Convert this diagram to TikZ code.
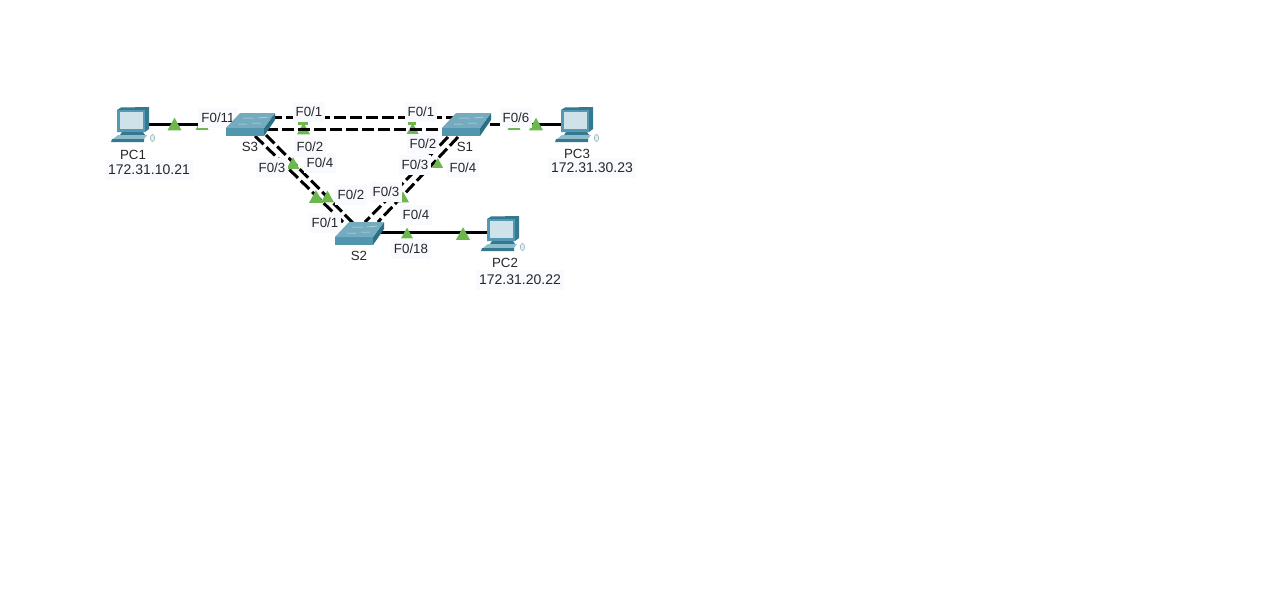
\documentclass[tikz,border=0pt]{standalone}
\usepackage{fontspec}
\setmainfont{Liberation Sans}
\usetikzlibrary{calc}
\definecolor{swtop}{HTML}{74ABBF}
\definecolor{swfront}{HTML}{4F96AE}
\definecolor{swside}{HTML}{2C7086}
\definecolor{pcback}{HTML}{34798F}
\definecolor{pcscreen}{HTML}{CFE2EA}
\definecolor{pcframe}{HTML}{5299B1}
\definecolor{lblbg}{HTML}{F9FAFE}
\definecolor{tri}{HTML}{6CB84E}
\definecolor{txt}{HTML}{26262B}
\tikzset{
 x=1pt,y=-1pt,
 link/.style={line width=3pt,black},
 linkd/.style={link,dash pattern=on 12pt off 4pt},
 lbl/.style={font=\fontsize{13.3}{15}\selectfont,text=txt,fill=lblbg,inner xsep=3pt,inner ysep=0pt,minimum height=20pt,text height=9.5pt,text depth=0pt},
 iplbl/.style={lbl,font=\fontsize{14}{16}\selectfont},
 captxt/.style={lbl,fill=none},
 mark tri/.style={fill=tri,draw=none},
}
\newcommand{\tria}[3]{\fill[mark tri] (#1-#3,#2+#3*.9) -- (#1,#2-#3*.9) -- (#1+#3,#2+#3*.9) -- cycle;}
\newcommand{\swicon}[3]{%
 \begin{scope}[shift={(#2,#3)}]
 \coordinate (#1) at (250,124);
 \fill[swfront] (226,128) -- (264,128) -- (264,136) -- (226,136) -- cycle;
 \fill[swside] (264,128) -- (275,113) -- (275,120) -- (264,136) -- cycle;
 \fill[swtop] (226,128) -- (240,113) -- (275,113) -- (264,128) -- cycle;
 \draw[white,line width=.5pt,opacity=.6] (243,118) -- (254,118) (258,118) -- (268,117) (238,124) -- (247,124) (252,123) -- (261,123);
 \end{scope}}
\newcommand{\pcicon}[3]{%
 \begin{scope}[shift={(#2,#3)}]
 \coordinate (#1) at (133,124);
 \fill[pcback] (117,110) -- (121,107.5) -- (149,107) -- (149,129) -- (145,132) -- (117,132) -- cycle;
 \fill[pcframe] (117,110) -- (145,110) -- (145,132) -- (117,132) -- cycle;
 \fill[pcscreen] (120,112) -- (143,112) -- (143,129) -- (120,129) -- cycle;
 \fill[pcback] (122,132) -- (143,132) -- (145,135) -- (120,135) -- cycle;
 \fill[pcframe!65!white] (118,135) -- (147,135) -- (144,139) -- (113,139) -- cycle;
 \fill[pcback] (112,139) -- (144,139) -- (144,142) -- (111,142) -- cycle;
 \draw[pcback!60!white,line width=.5pt,fill=black!8] (152.5,138) ellipse (2.2 and 3.6);
 \end{scope}}
\begin{document}
\begin{tikzpicture}
\useasboundingbox (0,0) rectangle (1269,610);
\fill[white] (0,0) rectangle (1269,610);
% port coordinates
\coordinate (s3a) at (270,117); \coordinate (s1a) at (455,117);
\coordinate (s3b) at (266,129); \coordinate (s1b) at (445,129);
\coordinate (s3c) at (255,136); \coordinate (s2c) at (343,222);
\coordinate (s3d) at (266,135); \coordinate (s2d) at (354,224);
\coordinate (s1e) at (448,137); \coordinate (s2e) at (365,222);
\coordinate (s1f) at (458,137); \coordinate (s2f) at (378,222);
\coordinate (pc1p) at (148,124); \coordinate (s3p) at (230,124);
\coordinate (s1p) at (490,124); \coordinate (pc3p) at (562,124);
\coordinate (s2p) at (380,232); \coordinate (pc2p) at (490,232);
% triangles that sit beneath the lower horizontal link
\tria{303.5}{128.5}{6.5}
\tria{412.7}{128.5}{6}
\fill[tri] (298,122) rectangle (308,125);
\fill[tri] (408,122) rectangle (416,125);
% links
\draw[link] (pc1p) -- (s3p);
\draw[link] (s1p) -- (pc3p);
\draw[link] (s2p) -- (pc2p);
\draw[linkd] (s3a) -- (s1a);
\draw[linkd] (s3b) -- (s1b);
\draw[linkd] (s3c) -- (s2c);
\draw[linkd] (s3d) -- (s2d);
\draw[linkd] (s1e) -- (s2e);
\draw[linkd] (s1f) -- (s2f);
% status triangles
\tria{174.5}{124}{7}
\tria{202}{124}{6.5}
\tria{514}{124}{6.5}
\tria{536}{124}{7}
\tria{407}{233}{6}
\tria{463}{233.5}{7}
\tria{293}{163}{6.5}
\tria{316}{196.5}{7}
\tria{327.5}{196.5}{6.5}
\tria{437.7}{163}{5.5}
\tria{403}{197}{6}
% labels
\node[lbl] (l1) at (218,118) {F0/11};
\node[lbl] (l2) at (309,112) {F0/1};
\node[lbl] (l3) at (421,112) {F0/1};
\node[lbl] (l4) at (310,147) {F0/2};
\node[lbl] (l5) at (423,144) {F0/2};
\node[lbl] (l6) at (272,168) {F0/3};
\node[lbl] (l7) at (320,163) {F0/4};
\node[lbl] (l8) at (415,165) {F0/3};
\node[lbl] (l9) at (463,168) {F0/4};
\node[lbl] (l10) at (351,195) {F0/2};
\node[lbl] (l11) at (386,192) {F0/3};
\node[lbl] (l12) at (416,215) {F0/4};
\node[lbl] (l13) at (325,223) {F0/1};
\node[lbl] (l14) at (411,249) {F0/18};
\node[lbl] (l15) at (516,118) {F0/6};
% devices
\swicon{s3}{0}{0}
\swicon{s1}{216}{0}
\swicon{s2}{109}{109}
\pcicon{pc1}{0}{0}
\pcicon{pc3}{444}{0}
\pcicon{pc2}{370}{109}
% captions
\node[captxt] (t1) at (133,154.5) {PC1};
\node[iplbl] (t2) at (149,170) {172.31.10.21};
\node[captxt] (t3) at (250,147) {S3};
\node[captxt] (t4) at (465,147) {S1};
\node[captxt] (t5) at (359,256) {S2};
\node[captxt] (t6) at (577,154) {PC3};
\node[iplbl] (t7) at (592,168) {172.31.30.23};
\node[captxt] (t8) at (505,263) {PC2};
\node[iplbl] (t9) at (520,280) {172.31.20.22};
\end{tikzpicture}
\end{document}
